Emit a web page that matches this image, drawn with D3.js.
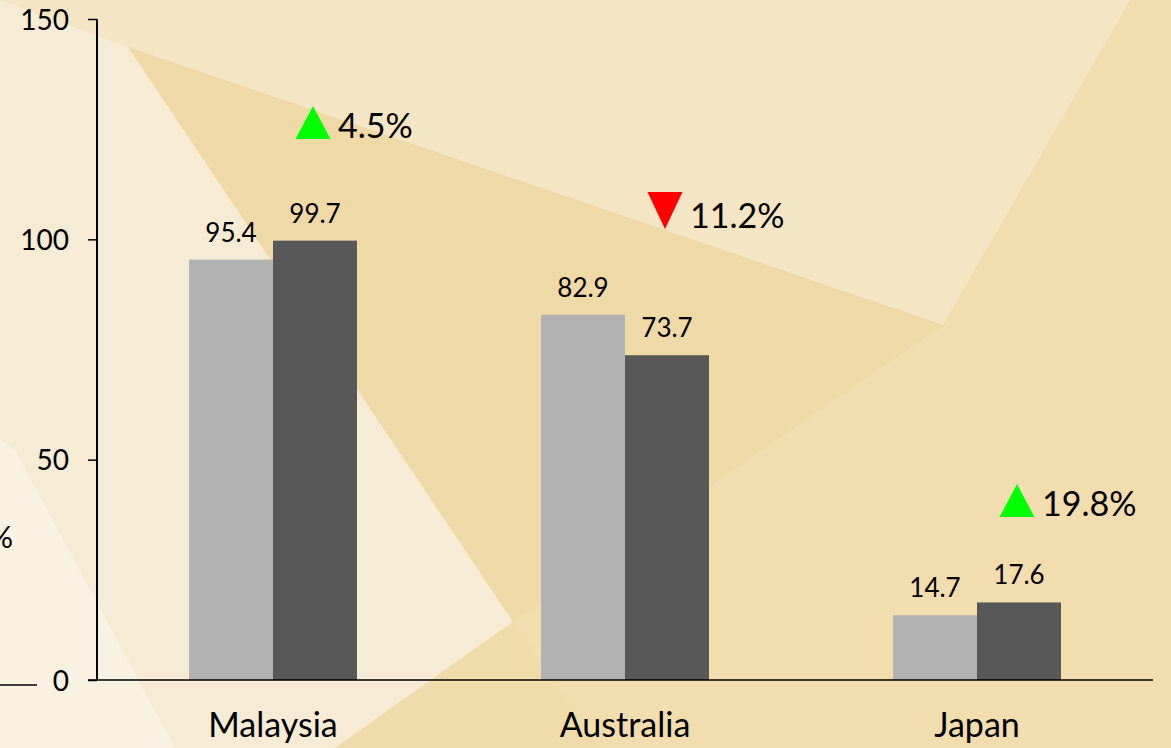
<!DOCTYPE html>
<html><head><meta charset="utf-8">
<script src="https://cdn.jsdelivr.net/npm/d3@7"></script>
<style>html,body{margin:0;padding:0;background:#f1ddad;overflow:hidden}svg{display:block}text{font-family:Lato,"Open Sans",sans-serif;fill:#000}</style>
</head><body>
<svg id="c" width="1171" height="748"></svg>
<script>
const categories = ["Malaysia", "Australia", "Japan"];
const seriesNames = ["Previous", "Current"];
const previousValues = [95.4, 82.9, 14.7];
const currentValues = [99.7, 73.7, 17.6];
const changeLabels = ["4.5%", "11.2%", "19.8%"];
const changeDirections = ["up", "down", "up"];
const changeLevels = [123, 102.6, 37.2];
const yTicks = [0, 50, 100, 150];

const svg = d3.select("#c");

// background facets
const bg = svg.append("g");
const polys = [
  {c:"#f1ddad", p:[[0,0],[1171,0],[1171,748],[0,748]]},
  {c:"#f4e6c4", p:[[0,0],[1130,0],[943,325],[128,47]]},
  {c:"#efd9a7", p:[[128,47],[943,325],[513,622]]},
  {c:"#f6ebd4", p:[[0,0],[128,47],[513,622],[335,748],[0,748]]},
  {c:"#f9f1e2", p:[[0,440],[15,450],[175,748],[0,748]]},
  {c:"#f0dcaa", p:[[335,748],[513,622],[600,748]]}
];
bg.selectAll("polygon").data(polys).join("polygon")
  .attr("points", d => d.p.map(q => q.join(",")).join(" "))
  .attr("fill", d => d.c);

const x0 = 97, x1 = 1153, yTop = 19, yBot = 680;
const x = d3.scaleBand().domain(categories).range([x0, x1]).padding(0);
const inner = d3.scaleBand().domain(seriesNames).range([0, 168]);
const y = d3.scaleLinear().domain([0, 150]).range([yBot, yTop]);
const colors = {Previous: "#b2b2b2", Current: "#585858"};

const data = categories.map((c, i) => ({cat: c, vals: [
  {s: "Previous", v: previousValues[i]}, {s: "Current", v: currentValues[i]}]}));

const g = svg.append("g");
const grp = g.selectAll("g.grp").data(data).join("g")
  .attr("transform", d => `translate(${x(d.cat) + x.bandwidth()/2 - 84},0)`);
grp.selectAll("rect").data(d => d.vals).join("rect")
  .attr("x", d => inner(d.s)).attr("width", inner.bandwidth())
  .attr("y", d => y(d.v)).attr("height", d => y(0) - y(d.v))
  .attr("fill", d => colors[d.s]);
grp.selectAll("text.val").data(d => d.vals).join("text").attr("class","val")
  .attr("x", d => inner(d.s) + inner.bandwidth()/2)
  .attr("y", d => y(d.v) - 18)
  .attr("text-anchor", "middle").style("font-size", "26px")
  .text(d => d.v.toFixed(1));

// y axis
const yAxis = d3.axisLeft(y).tickValues(yTicks).tickSize(9).tickPadding(19).tickFormat(d3.format("d"));
const ya = svg.append("g").attr("transform", `translate(${x0},0)`).call(yAxis);
ya.select(".domain").attr("stroke", "#000").attr("stroke-width", 2).attr("d", `M0,${yTop}V${yBot}`);
ya.selectAll(".tick line").attr("stroke", "#000").attr("stroke-width", 1.5);
ya.selectAll(".tick text").style("font-size", "28px").style("font-family", "Lato").attr("dy", "0.36em").attr("fill", "#000");

// x axis
const xAxis = d3.axisBottom(x).tickSize(0).tickPadding(36);
const xa = svg.append("g").attr("transform", `translate(0,${yBot})`).call(xAxis);
xa.select(".domain").attr("stroke", "#000").attr("stroke-width", 1.5).attr("d", `M${x0 - 9},0H${x1}`);
xa.selectAll(".tick text").style("font-size", "34px").style("font-family", "Lato").attr("fill", "#000").attr("dy", "0.71em").attr("y", 33);

// change annotations
const ann = svg.append("g").selectAll("g").data(categories).join("g")
  .attr("transform", (c, i) => `translate(${x(c) + x.bandwidth()/2 + inner("Current") - 84 + inner.bandwidth()/2 - 2},${y(changeLevels[i])})`);
ann.append("path")
  .attr("d", (c, i) => changeDirections[i] === "up" ? "M-17.5,1L17.5,1L0,-32Z" : "M-17.5,-36L17.5,-36L0,1Z")
  .attr("fill", (c, i) => changeDirections[i] === "up" ? "#00ff00" : "#ff0000");
ann.append("text").attr("x", 25).attr("y", 0).style("font-size", "34px")
  .text((c, i) => changeLabels[i]);

// left fragments
svg.append("text").attr("x", 13).attr("y", 548).attr("text-anchor", "end").style("font-size", "30px").text("%");
svg.append("line").attr("x1", 0).attr("x2", 37).attr("y1", 685).attr("y2", 685).attr("stroke", "#000").attr("stroke-width", 1.5);
</script>
</body></html>
